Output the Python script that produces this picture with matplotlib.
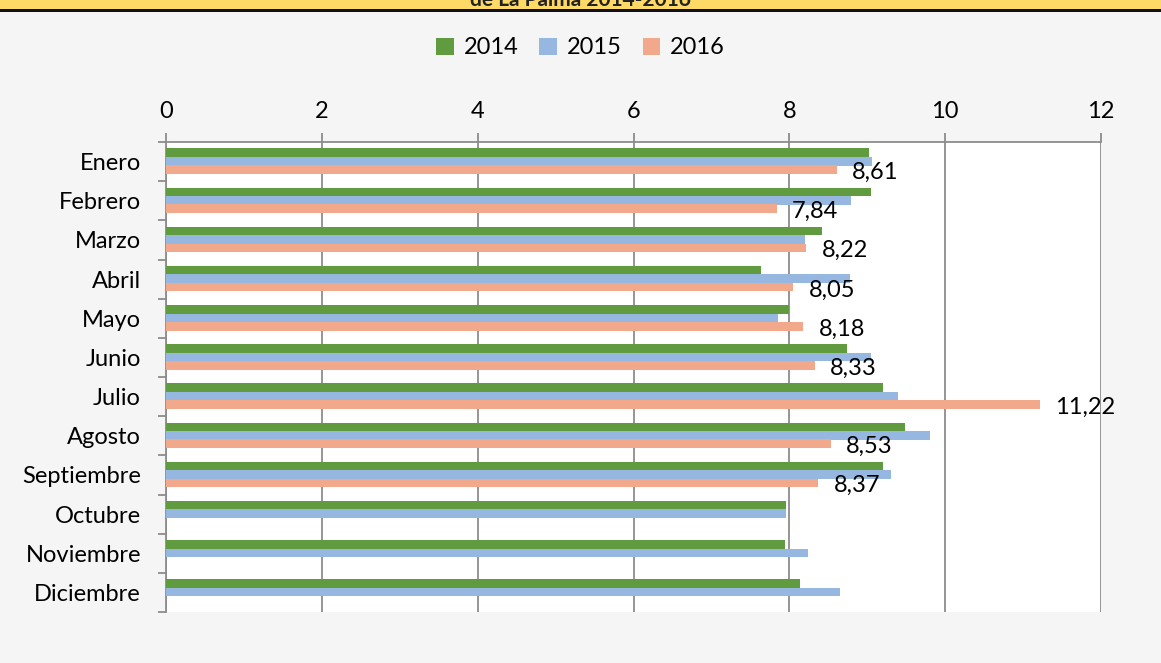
import numpy as np
import matplotlib
matplotlib.use("Agg")
import matplotlib.pyplot as plt

# ------------------------------
# Datos
# ------------------------------
meses = ["Enero", "Febrero", "Marzo", "Abril", "Mayo", "Junio", "Julio",
         "Agosto", "Septiembre", "Octubre", "Noviembre", "Diciembre"]
v2014 = [9.02, 9.05, 8.42, 7.64, 7.99, 8.74, 9.20, 9.48, 9.20, 7.96, 7.94, 8.14]
v2015 = [9.06, 8.79, 8.20, 8.78, 7.86, 9.05, 9.39, 9.80, 9.30, 7.96, 8.24, 8.65]
v2016 = [8.61, 7.84, 8.22, 8.05, 8.18, 8.33, 11.22, 8.53, 8.37, np.nan, np.nan, np.nan]
años = ["2014", "2015", "2016"]
colores = ["#619B3F", "#95B7E0", "#F2A88B"]
x_ticks = [0, 2, 4, 6, 8, 10, 12]

plt.rcParams['font.family'] = ['Lato', 'DejaVu Sans']
fs = 17

fig = plt.figure(figsize=(11.61, 6.63), dpi=100)
fig.patch.set_facecolor("#f5f5f5")

# barra de título (cortada arriba)
fig.patches.append(plt.Rectangle((0, 1 - 9 / 663), 1, 9 / 663, transform=fig.transFigure,
                                 facecolor="#FFD966", edgecolor="none", zorder=0))
fig.patches.append(plt.Rectangle((0, 1 - 12 / 663), 1, 3 / 663, transform=fig.transFigure,
                                 facecolor="#111111", edgecolor="none", zorder=0))
fig.text(0.5, 1 - 6 / 663, "de La Palma 2014-2016", ha="center", va="baseline",
         fontsize=15, fontweight="bold", color="#222222")

ax = fig.add_axes([166 / 1161, 1 - 612 / 663, (1101 - 166) / 1161, (612 - 142) / 663])
ax.set_facecolor("white")

y = np.arange(len(meses))
h = 0.22
offsets = [-0.225, -0.01, 0.205]
for serie, col, off, lab in zip([v2014, v2015, v2016], colores, offsets, años):
    vals = np.array(serie, dtype=float)
    ok = ~np.isnan(vals)
    ax.barh(y[ok] + off, vals[ok], height=h, color=col, label=lab, zorder=3)

# etiquetas de datos para 2016
for yi, v in zip(y, v2016):
    if np.isnan(v):
        continue
    ax.annotate(f"{v:.2f}".replace(".", ","), xy=(v, yi + offsets[2]), xytext=(11, -2),
                textcoords="offset points", ha="left", va="center", fontsize=fs, color="black")

ax.set_xlim(0, 12)
ax.set_ylim(len(meses) - 0.5, -0.5)
ax.xaxis.tick_top()
ax.set_xticks(x_ticks)
ax.set_xticklabels([str(t) for t in x_ticks], fontsize=fs)
ax.grid(axis="x", color="#8c8c8c", linewidth=1.3, zorder=1)
ax.tick_params(axis="x", length=6.5, color="#8c8c8c", width=1.3, pad=8)

ax.set_yticks(y)
ax.set_yticklabels(meses, fontsize=fs)
ax.set_yticks(np.arange(-0.5, len(meses) + 0.5, 1), minor=True)
ax.tick_params(axis="y", which="major", length=0, pad=18)
ax.tick_params(axis="y", which="minor", length=6, color="#8c8c8c", width=1.3)

for s in ["right", "bottom"]:
    ax.spines[s].set_visible(False)
ax.spines["left"].set_color("#8c8c8c")
ax.spines["left"].set_linewidth(1.3)
ax.spines["top"].set_color("#8c8c8c")
ax.spines["top"].set_linewidth(1.3)

fig.legend(loc="center", bbox_to_anchor=(0.5, 1 - 48 / 663), ncol=3, frameon=False,
           fontsize=fs, handlelength=0.75, handleheight=0.75, handletextpad=0.4,
           columnspacing=0.9)

fig.savefig("out.png", dpi=100, facecolor=fig.get_facecolor())
